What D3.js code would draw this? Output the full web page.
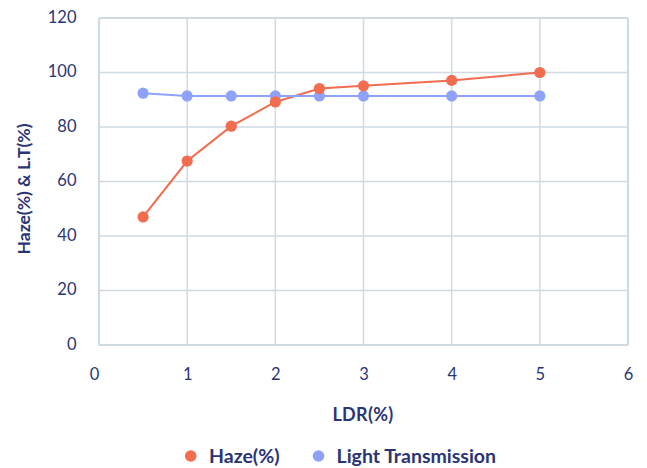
<!DOCTYPE html>
<html><head><meta charset="utf-8">
<script src="https://cdn.jsdelivr.net/npm/d3@7"></script>
<style>body{margin:0;background:#fff}svg{display:block}text{font-family:Lato,"Noto Sans",sans-serif}</style>
</head><body><svg id="c" width="647" height="468"></svg>
<script>
const ldr = [0.5, 1, 1.5, 2, 2.5, 3, 4, 5];
const haze = [47, 67.5, 80.3, 89.2, 94.1, 95.1, 97.1, 100];
const lightTransmission = [92.4, 91.4, 91.4, 91.4, 91.4, 91.4, 91.4, 91.4];
const xTicks = [0, 1, 2, 3, 4, 5, 6];
const yTicks = [0, 20, 40, 60, 80, 100, 120];
const seriesNames = ["Haze(%)", "Light Transmission"];
const colors = ["#f26c4f", "#8ea2fa"];

const svg = d3.select("#c");
const L = 99, R = 628, T = 18, B = 345;
const x = d3.scaleLinear().domain([0, 6]).range([L, R]);
const y = d3.scaleLinear().domain([0, 120]).range([B, T]);
const ink = "#2b3475", grid = "#cfdae3";

const g = svg.append("g");
g.selectAll(".vg").data(xTicks).join("line")
  .attr("x1", d => x(d)).attr("x2", d => x(d)).attr("y1", T).attr("y2", B)
  .attr("stroke", grid).attr("stroke-width", d => (d === 0 || d === 6) ? 2.2 : 1.5);
g.selectAll(".hg").data(yTicks).join("line")
  .attr("x1", L).attr("x2", R).attr("y1", d => y(d)).attr("y2", d => y(d))
  .attr("stroke", grid).attr("stroke-width", d => (d === 0 || d === 120) ? 2.2 : 1.5);

const xAxis = d3.axisBottom(x).tickValues(xTicks).tickFormat(d3.format("d")).tickSize(0).tickPadding(0);
const xg = svg.append("g").attr("transform", `translate(0,${B + 29})`).call(xAxis);
xg.select(".domain").remove();
xg.selectAll("text").attr("fill", ink).attr("font-size", 16.5).attr("dy", "0.35em").attr("dx", d => d === 0 ? -5 : 0);

const yAxis = d3.axisLeft(y).tickValues(yTicks).tickFormat(d3.format("d")).tickSize(0).tickPadding(0);
const yg = svg.append("g").attr("transform", `translate(76.5,-1.5)`).call(yAxis);
yg.select(".domain").remove();
yg.selectAll("text").attr("fill", ink).attr("font-size", 16.5).attr("dy", "0.35em");

svg.append("text").attr("x", 363).attr("y", 421).attr("text-anchor", "middle")
  .attr("fill", ink).attr("font-size", 18).attr("font-weight", "bold").attr("letter-spacing", 0.3).text("LDR(%)");
svg.append("text").attr("transform", "translate(29.5,189) rotate(-90)").attr("text-anchor", "middle")
  .attr("fill", ink).attr("font-size", 17.5).attr("font-weight", "bold").text("Haze(%) & L.T(%)");

const line = d3.line().x(d => x(d[0])).y(d => y(d[1]));
const series = [haze, lightTransmission];
series.forEach((vals, i) => {
  const pts = ldr.map((v, j) => [v, vals[j]]);
  svg.append("path").datum(pts).attr("d", line).attr("fill", "none")
    .attr("stroke", colors[i]).attr("stroke-width", 2);
});
[1, 0].forEach(i => {
  const pts = ldr.map((v, j) => [v, series[i][j]]);
  svg.append("g").selectAll("circle").data(pts).join("circle")
    .attr("cx", d => x(d[0])).attr("cy", d => y(d[1])).attr("r", 5.6).attr("fill", colors[i]);
});

const leg = [{n: seriesNames[0], cx: 190.7, tx: 209}, {n: seriesNames[1], cx: 318.5, tx: 336.5}];
leg.forEach((l, i) => {
  svg.append("circle").attr("cx", l.cx).attr("cy", 456).attr("r", 5.8).attr("fill", colors[i]);
  svg.append("text").attr("x", l.tx).attr("y", 462.5).attr("fill", ink)
    .attr("font-size", 19.5).attr("font-weight", "bold").text(l.n);
});
</script></body></html>
